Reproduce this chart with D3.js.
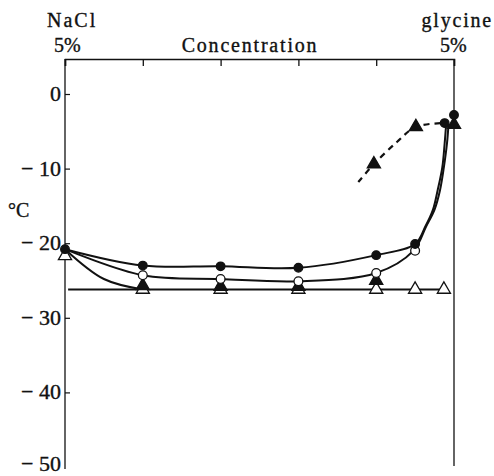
<!DOCTYPE html>
<html>
<head>
<meta charset="utf-8">
<script src="https://cdn.jsdelivr.net/npm/d3@7"></script>
<style>
body { margin: 0; background: #fff; }
text { font-family: "Liberation Serif", "DejaVu Serif", serif; fill: #111; stroke: #111; stroke-width: 0.35px; }
</style>
</head>
<body>
<svg id="chart" width="494" height="476"></svg>
<script>
// concentration steps: 0 = NaCl 5%, 5 = glycine 5%
var yTicks = [0, -10, -20, -30, -40, -50];
var xTicks = [0, 1, 2, 3, 4, 5];

// filled circles
var fcX = [0, 1, 2, 3, 4, 4.5, 5];
var fcY = [-20.8, -23.0, -23.1, -23.3, -21.6, -20.1, -2.8];
// open circles
var ocX = [1, 2, 3, 4, 4.5];
var ocY = [-24.3, -24.8, -25.1, -24.0, -21.0];
// filled triangles
var ftX = [1, 2, 3, 4, 5];
var ftY = [-25.7, -25.8, -25.8, -25.0, -4.1];
// open triangles
var otX = [0, 1, 2, 3, 4, 4.5, 4.87];
var otY = [-21.7, -26.2, -26.2, -26.2, -26.2, -26.2, -26.2];
// dashed branch (filled triangles + end point)
var dtX = [3.97, 4.51];
var dtY = [-9.4, -4.4];
var dashX = [3.77, 3.97, 4.27, 4.51, 4.88];
var dashY = [-11.8, -9.4, -6.4, -4.4, -3.9];

// drawn curves
var curveTopX = [0, 1, 2, 3, 4, 4.5, 4.63, 4.73, 4.79, 4.85, 4.88, 4.9];
var curveTopY = [-20.8, -23.0, -23.1, -23.3, -21.6, -20.1, -17.8, -15.5, -12.9, -9.8, -6.6, -3.9];
var curveMidX = [0, 1, 2, 3, 4, 4.48, 4.64, 4.75, 4.82, 4.87, 4.91, 4.93];
var curveMidY = [-20.8, -24.3, -24.8, -25.1, -24.0, -21.0, -17.8, -15.5, -12.9, -9.8, -6.6, -4.0];
var curveLowX = [0, 0.5, 1];
var curveLowY = [-20.8, -24.8, -26.2];
var flatX = [0.04, 4.87];
var flatY = [-26.2, -26.2];

var svg = d3.select("#chart");
var x = d3.scaleLinear().domain([0, 5]).range([65, 454]);
var y = d3.scaleLinear().domain([0, -50]).range([94, 467]);

function zip(xs, ys){ return xs.map(function(v, i){ return [v, ys[i]]; }); }

// frame: left axis, top axis, right axis
svg.append("line").attr("x1", x(0)).attr("x2", x(0)).attr("y1", 59).attr("y2", 469)
	.attr("stroke", "#111").attr("stroke-width", 1.3);
svg.append("line").attr("x1", x(5)).attr("x2", x(5)).attr("y1", 59).attr("y2", 466)
	.attr("stroke", "#111").attr("stroke-width", 1.3);

var topAxis = d3.axisBottom(x).tickValues(xTicks).tickSize(7).tickFormat("");
var gTop = svg.append("g").attr("transform", "translate(0,59)").call(topAxis);
gTop.select(".domain").attr("stroke", "#111").attr("stroke-width", 1.5);
gTop.selectAll(".tick line").attr("stroke", "#111").attr("stroke-width", 1.3);

var leftAxis = d3.axisRight(y).tickValues(yTicks.slice(0, 5)).tickSize(5).tickFormat("");
var gLeft = svg.append("g").attr("transform", "translate(" + x(0) + ",0)").call(leftAxis);
gLeft.select(".domain").remove();
gLeft.selectAll(".tick line").attr("stroke", "#111").attr("stroke-width", 1.2);

// tick labels
yTicks.forEach(function(t){
	var ty = Math.min(y(t) + 7, 471);
	svg.append("text")
	.attr("x", 61)
	.attr("y", ty)
	.attr("text-anchor", "end")
	.style("font-size", "22px")
	.text(t < 0 ? "\u2212 " + (-t) : t);
});

svg.append("text").attr("x", 8).attr("y", 217).style("font-size", "20px").text("\u00b0C");

svg.append("text").attr("x", 47).attr("y", 27).style("font-size", "20px")
	.style("letter-spacing", "2px").text("NaCl");
svg.append("text").attr("x", 54).attr("y", 52).style("font-size", "20px").text("5%");
svg.append("text").attr("x", 250).attr("y", 52).attr("text-anchor", "middle")
	.style("font-size", "20px").style("letter-spacing", "1.8px").text("Concentration");
svg.append("text").attr("x", 493).attr("y", 27).attr("text-anchor", "end")
	.style("font-size", "20px").style("letter-spacing", "1.8px").text("glycine");
svg.append("text").attr("x", 440).attr("y", 52).style("font-size", "20px").text("5%");

// curves
var line = d3.line().x(function(d){ return x(d[0]); }).y(function(d){ return y(d[1]); })
	.curve(d3.curveCatmullRom);
[[curveTopX, curveTopY], [curveMidX, curveMidY], [curveLowX, curveLowY], [flatX, flatY]].forEach(function(c){
	svg.append("path")
	.attr("d", line(zip(c[0], c[1])))
	.attr("fill", "none")
	.attr("stroke", "#111")
	.attr("stroke-width", 2);
});
svg.append("path")
	.attr("d", line(zip(dashX, dashY)))
	.attr("fill", "none")
	.attr("stroke", "#111")
	.attr("stroke-width", 2.2)
	.attr("stroke-dasharray", "6,5");

// markers
var tri = d3.symbol().type(d3.symbolTriangle).size(75);
function triangles(xs, ys, fill){
	svg.append("g").selectAll("path").data(zip(xs, ys)).join("path")
	.attr("d", tri)
	.attr("transform", function(d){ return "translate(" + x(d[0]) + "," + y(d[1]) + ")"; })
	.attr("fill", fill)
	.attr("stroke", "#111")
	.attr("stroke-width", 1.3);
}
function circles(xs, ys, fill, r){
	svg.append("g").selectAll("circle").data(zip(xs, ys)).join("circle")
	.attr("cx", function(d){ return x(d[0]); })
	.attr("cy", function(d){ return y(d[1]); })
	.attr("r", r)
	.attr("fill", fill)
	.attr("stroke", "#111")
	.attr("stroke-width", 1.3);
}
triangles(otX, otY, "#fff");
triangles(ftX, ftY, "#111");
triangles(dtX, dtY, "#111");
circles(ocX, ocY, "#fff", 4.4);
circles(fcX, fcY, "#111", 4.3);
circles([dashX[4]], [dashY[4]], "#111", 4.3);
</script>
</body>
</html>
